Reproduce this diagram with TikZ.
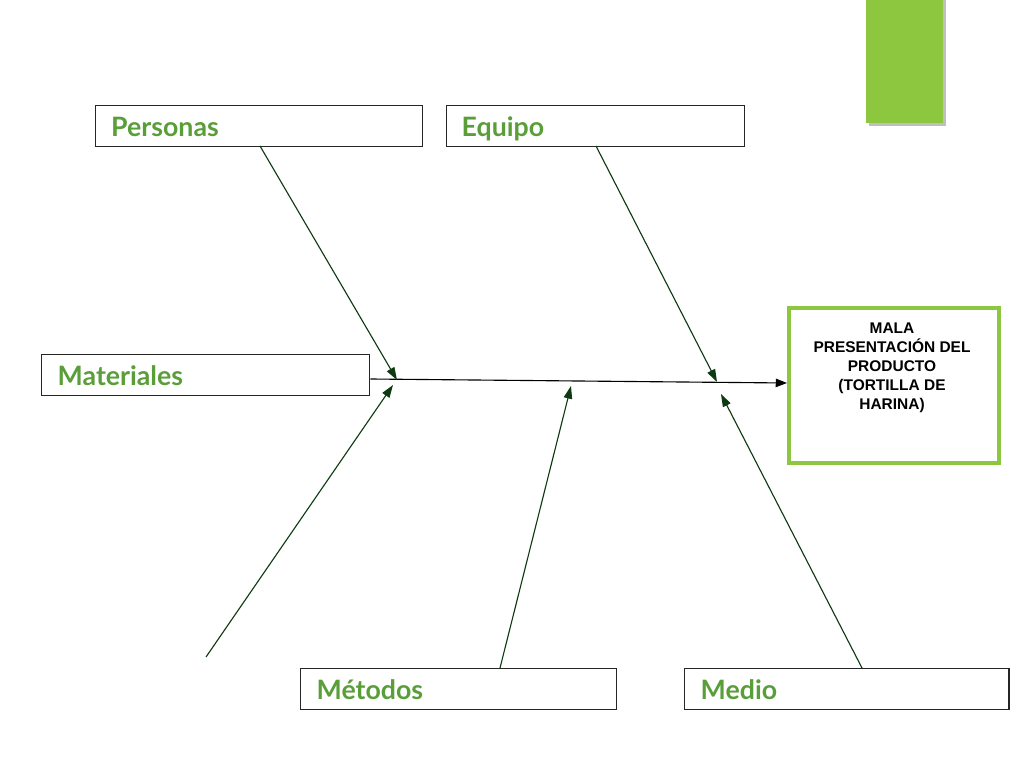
\documentclass[tikz,border=0pt]{standalone}
\usepackage{fontspec}
\setmainfont{Lato}
\newfontfamily\effectfont{Liberation Sans}
\usetikzlibrary{arrows.meta,positioning}
\definecolor{leaf}{HTML}{8DC63F}
\definecolor{labelgreen}{HTML}{5A9E3A}
\definecolor{bonegreen}{HTML}{0E3A12}
\tikzset{
  cause/.style={draw=black!85,line width=1pt,minimum height=1.025cm,inner sep=0pt,
    text=labelgreen,font=\fontsize{19}{22}\selectfont\bfseries,anchor=north west,
    text height=15pt,text depth=0pt},
  bone/.style={draw=bonegreen,line width=0.8pt,-{Triangle[length=9pt,width=6pt]}},
}
\newcommand{\causepad}{\hspace*{0.3cm}}
\begin{document}
\begin{tikzpicture}[x=0.025cm,y=-0.025cm]
\useasboundingbox (0,0) rectangle (1024,768);
% green tab with shadow
\fill[black!25] (869,0) rectangle (946,126);
\fill[leaf] (866,0) rectangle (943,123);
% cause boxes
\node[cause,minimum width=8.175cm,text width=8.0cm] (per) at (95,105) {\causepad Personas};
\node[cause,minimum width=7.45cm,text width=7.3cm] (equ) at (446,105) {\causepad Equipo};
\node[cause,minimum width=8.2cm,text width=8.0cm] (mat) at (41,354) {\causepad Materiales};
\node[cause,minimum width=7.9cm,text width=7.7cm] (met) at (300,668) {\causepad Métodos};
\node[cause,minimum width=8.1cm,text width=7.9cm] (med) at (684,668) {\causepad Medio};
% effect box
\node[draw=leaf,line width=2.5pt,minimum width=5.25cm,minimum height=3.875cm,anchor=north west] (eff) at (787,306) {};
\node[font=\effectfont\fontsize{11}{13.5}\selectfont\bfseries,align=center,anchor=north] (efftext) at (892,318)
  {MALA\\PRESENTACIÓN DEL\\PRODUCTO\\(TORTILLA DE\\HARINA)};
% spine and bones
\coordinate (p1) at (397,380);
\coordinate (p2) at (717,382);
\coordinate (q1) at (393,385);
\coordinate (q2) at (571,386);
\coordinate (q3) at (721,394);
\coordinate (low) at (206,657);
\draw[line width=0.8pt,-{Triangle[length=8pt,width=6pt]}] (mat.east |- 0,379) -- (eff.west |- 0,383);
\draw[bone] (260,146) -- (p1);
\draw[bone] (596,146) -- (p2);
\draw[bone] (low) -- (q1);
\draw[bone] (500,668) -- (q2);
\draw[bone] (862,668) -- (q3);
\end{tikzpicture}
\end{document}
